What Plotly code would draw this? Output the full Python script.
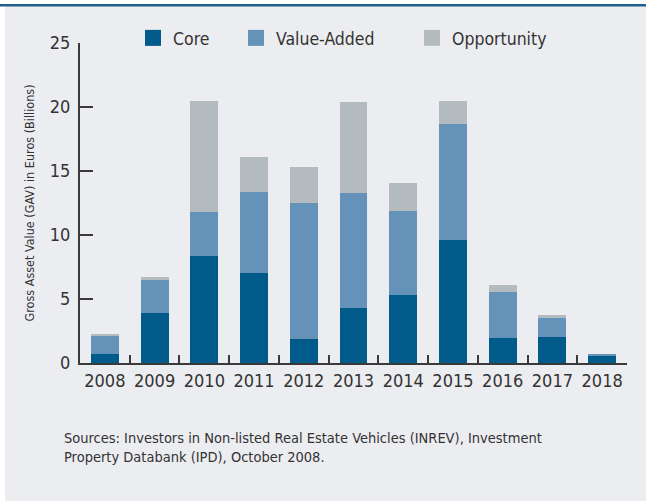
import plotly.graph_objects as go

# values (billions of euros)
years = ["2008", "2009", "2010", "2011", "2012", "2013", "2014", "2015", "2016", "2017", "2018"]
core = [0.68, 3.88, 8.33, 7.00, 1.85, 4.27, 5.29, 9.58, 1.93, 2.00, 0.60]
value_added = [1.43, 2.66, 3.44, 6.33, 10.62, 8.99, 6.56, 9.07, 3.59, 1.57, 0.08]
opportunity = [0.13, 0.15, 8.67, 2.74, 2.82, 7.10, 2.19, 1.79, 0.55, 0.15, 0.00]

names = ["Core", "Value-Added", "Opportunity"]
colors = ["#005a8a", "#6592b9", "#b4bbbf"]
series = [core, value_added, opportunity]

FONT = "DejaVu Sans Condensed, Liberation Sans Narrow, Arial Narrow, Roboto, sans-serif"
TXT = "#333333"
BG = "#ecedf0"

W, H = 646, 501
L, R, T, B = 80, 19, 43, 138


def px_x(x):
    return (x - L) / (W - L - R)


def px_y(y):
    return (H - B - y) / (H - T - B)


fig = go.Figure()

legend_x = [133, 236, 412]
for i, (name, col, vals) in enumerate(zip(names, colors, series)):
    fig.add_trace(go.Bar(x=years, y=vals, name=name, marker=dict(color=col, line=dict(width=0)),
                         width=0.56, showlegend=False))
    # legend entry drawn with a square marker
    lg = "legend" if i == 0 else "legend%d" % (i + 1)
    fig.add_trace(go.Scatter(x=[None], y=[None], mode="markers", name=name, legend=lg,
                             marker=dict(symbol="square", size=16, color=col)))

legends = {}
for i, lx in enumerate(legend_x):
    key = "legend" if i == 0 else "legend%d" % (i + 1)
    legends[key] = dict(x=lx / W, xref="container", xanchor="left",
                        y=1 - 38 / H, yref="container", yanchor="middle",
                        orientation="h", bgcolor="rgba(0,0,0,0)",
                        font=dict(family=FONT, size=17.5, color=TXT))

fig.update_layout(
    barmode="stack",
    width=W, height=H,
    margin=dict(l=L, r=R, t=T, b=B, pad=0, autoexpand=False),
    paper_bgcolor=BG,
    plot_bgcolor="rgba(0,0,0,0)",
    font=dict(family=FONT, color=TXT),
    **legends,
)

fig.update_xaxes(
    type="category", range=[-0.5, 10.5],
    showline=True, linecolor="#3a3a3a", linewidth=2,
    ticks="inside", tickson="boundaries", ticklen=8, tickwidth=1.5, tickcolor="#3a3a3a",
    tickangle=0, automargin=False,
    tickfont=dict(family=FONT, size=18, color=TXT),
    showgrid=False, zeroline=False, fixedrange=True,
)
fig.update_yaxes(
    range=[0, 25], tickvals=[0, 5, 10, 15, 20, 25],
    showline=True, linecolor="#3a3a3a", linewidth=2,
    ticks="inside", ticklen=13, tickwidth=1.5, tickcolor="#3a3a3a",
    ticklabelstandoff=4, automargin=False,
    tickfont=dict(family=FONT, size=18, color=TXT),
    title=dict(text="Gross Asset Value (GAV) in Euros (Billions)",
               font=dict(family=FONT, size=12.5, color=TXT), standoff=12),
    showgrid=False, zeroline=False, fixedrange=True,
)

# white frame strips and the blue rule at the top
fig.add_shape(type="rect", xref="paper", yref="paper", x0=px_x(0), x1=px_x(5), y0=px_y(H), y1=px_y(0),
              fillcolor="white", line=dict(width=0), layer="below")
fig.add_shape(type="rect", xref="paper", yref="paper", x0=px_x(0), x1=px_x(W), y0=px_y(4), y1=px_y(0),
              fillcolor="white", line=dict(width=0), layer="below")
fig.add_shape(type="rect", xref="paper", yref="paper", x0=px_x(0), x1=px_x(W), y0=px_y(6.5), y1=px_y(4),
              fillcolor="#1f5f8e", line=dict(width=0), layer="below")

fig.add_annotation(
    text="Sources: Investors in Non-listed Real Estate Vehicles (INREV), Investment<br>"
         "Property Databank (IPD), October 2008.",
    xref="paper", yref="paper", x=px_x(62), y=px_y(428), xanchor="left", yanchor="top",
    align="left", showarrow=False, font=dict(family=FONT, size=14.5, color=TXT),
)

# drop the page's default body margin so the figure sits at the window's corner
fig.write_html("out.html", config={"displayModeBar": False},
               post_script="document.body.style.margin='0';")
